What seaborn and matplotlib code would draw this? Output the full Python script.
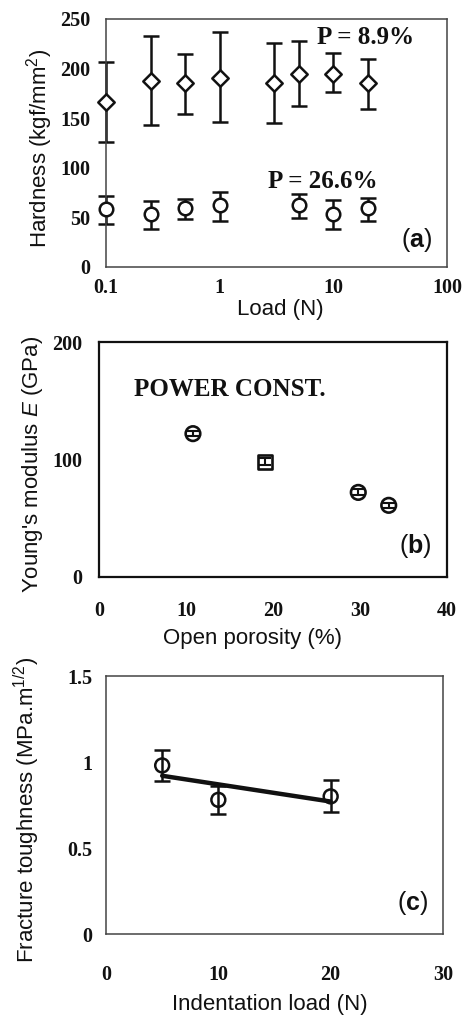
import numpy as np
import pandas as pd
import matplotlib
matplotlib.use("Agg")
import matplotlib.pyplot as plt
import seaborn as sns

# ---------------- data ----------------
# (a) hardness vs load
load_a1 = [0.1, 0.25, 0.5, 1, 3, 5, 10, 20]
hard_89 = [166, 187, 185, 191, 185, 195, 195, 185]
hard_89_lo = [126, 143, 154, 146, 145, 162, 176, 159]
hard_89_hi = [207, 233, 215, 237, 226, 228, 216, 210]

load_a2 = [0.1, 0.25, 0.5, 1, 5, 10, 20]
hard_266 = [58, 53, 59, 62, 63, 53, 59]
hard_266_lo = [43, 38, 48, 46, 49, 38, 46]
hard_266_hi = [72, 67, 69, 76, 74, 68, 70]

# (b) Young's modulus vs open porosity
porosity = [10.8, 19.1, 29.8, 33.3]
young_E = [122, 98, 72, 61]
young_err = [2, 3, 2.5, 2]
young_marker = ["o", "s", "o", "o"]

# (c) fracture toughness vs indentation load
load_c = [5, 10, 20]
tough = [0.98, 0.78, 0.80]
tough_lo = [0.89, 0.70, 0.71]
tough_hi = [1.07, 0.86, 0.895]

# ---------------- style ----------------
sns.set_theme(style="white")
plt.rcParams["font.family"] = ["Liberation Sans", "DejaVu Sans"]
plt.rcParams["mathtext.fontset"] = "custom"
plt.rcParams["mathtext.rm"] = "Liberation Sans"
plt.rcParams["mathtext.it"] = "Liberation Sans:italic"
plt.rcParams["mathtext.bf"] = "Liberation Sans:bold"

W, H = 464, 1017
fig = plt.figure(figsize=(W / 100, H / 100), dpi=100)
fig.patch.set_facecolor("white")


def axes_px(left, top, right, bottom):
    return fig.add_axes([left / W, 1 - bottom / H, (right - left) / W, (bottom - top) / H])


tick_font = dict(family="Liberation Serif", weight="bold", size=14.5)
label_size = 16
ink = "#111111"


def style_axes(ax, xpad, ypad, spine_color="#444444", spine_lw=1.1):
    for s in ax.spines.values():
        s.set_visible(True)
        s.set_color(spine_color)
        s.set_linewidth(spine_lw)
    ax.tick_params(axis="both", direction="in", length=2, width=0.6, color="#999999")
    ax.tick_params(axis="x", pad=xpad)
    ax.tick_params(axis="y", pad=ypad)
    for lab in ax.get_xticklabels() + ax.get_yticklabels():
        lab.set_fontfamily(tick_font["family"])
        lab.set_fontweight(tick_font["weight"])
        lab.set_fontsize(tick_font["size"])
        lab.set_color(ink)


# ---------------- (a) ----------------
ax1 = axes_px(106, 19, 447, 267)
df89 = pd.DataFrame({"load": load_a1, "h": hard_89})
df266 = pd.DataFrame({"load": load_a2, "h": hard_266})
for x, y, lo, hi in [(load_a1, hard_89, hard_89_lo, hard_89_hi),
                     (load_a2, hard_266, hard_266_lo, hard_266_hi)]:
    eb = ax1.errorbar(x, y, yerr=[np.subtract(y, lo), np.subtract(hi, y)],
                      fmt="none", ecolor=ink, elinewidth=1.8, capsize=6, capthick=1.8, zorder=2)
    for art in eb.lines[1] + eb.lines[2]:
        art.set_clip_on(False)
sns.scatterplot(data=df89, x="load", y="h", marker="D", s=70, facecolor="white",
                edgecolor=ink, linewidth=1.8, ax=ax1, zorder=3, clip_on=False)
sns.scatterplot(data=df266, x="load", y="h", marker="o", s=95, facecolor="white",
                edgecolor=ink, linewidth=1.8, ax=ax1, zorder=3, clip_on=False)
ax1.set_xscale("log")
ax1.set_xlim(0.1, 100)
ax1.set_ylim(0, 250)
ax1.set_xticks([0.1, 1, 10, 100])
ax1.set_xticklabels(["0.1", "1", "10", "100"])
ax1.xaxis.set_minor_locator(matplotlib.ticker.NullLocator())
ax1.set_yticks([0, 50, 100, 150, 200, 250])
ax1.set_xlabel("Load (N)", fontsize=label_size, color=ink, va="center")
ax1.set_ylabel("Hardness (kgf/mm$^2$)", fontsize=label_size, color=ink, va="center")
ax1.xaxis.set_label_coords(0.51, -0.173)
ax1.yaxis.set_label_coords(-0.195, 0.48)
style_axes(ax1, xpad=8, ypad=11)
ax1.text(0.62, 0.925, "P = 8.9%", transform=ax1.transAxes, family="Liberation Serif",
         weight="bold", fontsize=18, color=ink, va="center", ha="left")
ax1.text(0.475, 0.345, "P = 26.6%", transform=ax1.transAxes, family="Liberation Serif",
         weight="bold", fontsize=18, color=ink, va="center", ha="left")
ax1.text(0.955, 0.11, r"($\mathbf{a}$)", transform=ax1.transAxes, fontsize=18,
         color=ink, ha="right", va="center")

# ---------------- (b) ----------------
ax2 = axes_px(99, 342, 447, 577)
ax2.errorbar(porosity, young_E, yerr=young_err, fmt="none", ecolor=ink,
             elinewidth=1.5, capsize=4.5, capthick=1.5, zorder=2)
dfb = pd.DataFrame({"p": porosity, "E": young_E, "m": young_marker})
sns.scatterplot(data=dfb, x="p", y="E", style="m", markers={"o": "o", "s": "s"},
                s=110, facecolor="none", edgecolor=ink, linewidth=1.9, legend=False,
                ax=ax2, zorder=3)
ax2.set_xlim(0, 40)
ax2.set_ylim(0, 200)
ax2.set_xticks([0, 10, 20, 30, 40])
ax2.set_yticks([0, 100, 200])
ax2.set_xlabel("Open porosity (%)", fontsize=label_size, color=ink, va="center")
ax2.set_ylabel("Young's modulus $\\mathit{E}$ (GPa)", fontsize=label_size, color=ink, va="center")
ax2.xaxis.set_label_coords(0.44, -0.26)
ax2.yaxis.set_label_coords(-0.19, 0.48)
style_axes(ax2, xpad=17, ypad=12, spine_color="#111111", spine_lw=1.6)
ax2.text(0.1, 0.8, "POWER CONST.", transform=ax2.transAxes, family="Liberation Serif",
         weight="bold", fontsize=18, color=ink, va="center", ha="left")
ax2.text(0.955, 0.13, r"($\mathbf{b}$)", transform=ax2.transAxes, fontsize=18,
         color=ink, ha="right", va="center")

# ---------------- (c) ----------------
ax3 = axes_px(106, 676, 443, 934)
dfc = pd.DataFrame({"load": load_c, "K": tough})
ax3.errorbar(load_c, tough,
             yerr=[np.subtract(tough, tough_lo), np.subtract(tough_hi, tough)],
             fmt="none", ecolor=ink, elinewidth=1.8, capsize=6, capthick=1.8, zorder=2)
sns.regplot(data=dfc, x="load", y="K", ci=None, scatter=False, truncate=True,
            line_kws=dict(color=ink, lw=3.2, zorder=4), ax=ax3)
sns.scatterplot(data=dfc, x="load", y="K", marker="o", s=100, facecolor="none",
                edgecolor=ink, linewidth=1.8, ax=ax3, zorder=3)
ax3.set_xlim(0, 30)
ax3.set_ylim(0, 1.5)
ax3.set_xticks([0, 10, 20, 30])
ax3.set_yticks([0, 0.5, 1, 1.5])
ax3.set_yticklabels(["0", "0.5", "1", "1.5"])
ax3.set_xlabel("Indentation load (N)", fontsize=label_size, color=ink, va="center")
ax3.set_ylabel("Fracture toughness (MPa.m$^{1/2}$)", fontsize=label_size, color=ink, va="center")
ax3.xaxis.set_label_coords(0.485, -0.275)
ax3.yaxis.set_label_coords(-0.235, 0.48)
style_axes(ax3, xpad=22, ypad=10)
ax3.text(0.955, 0.12, r"($\mathbf{c}$)", transform=ax3.transAxes, fontsize=18,
         color=ink, ha="right", va="center")

fig.savefig("out.png", dpi=100, facecolor="white")
